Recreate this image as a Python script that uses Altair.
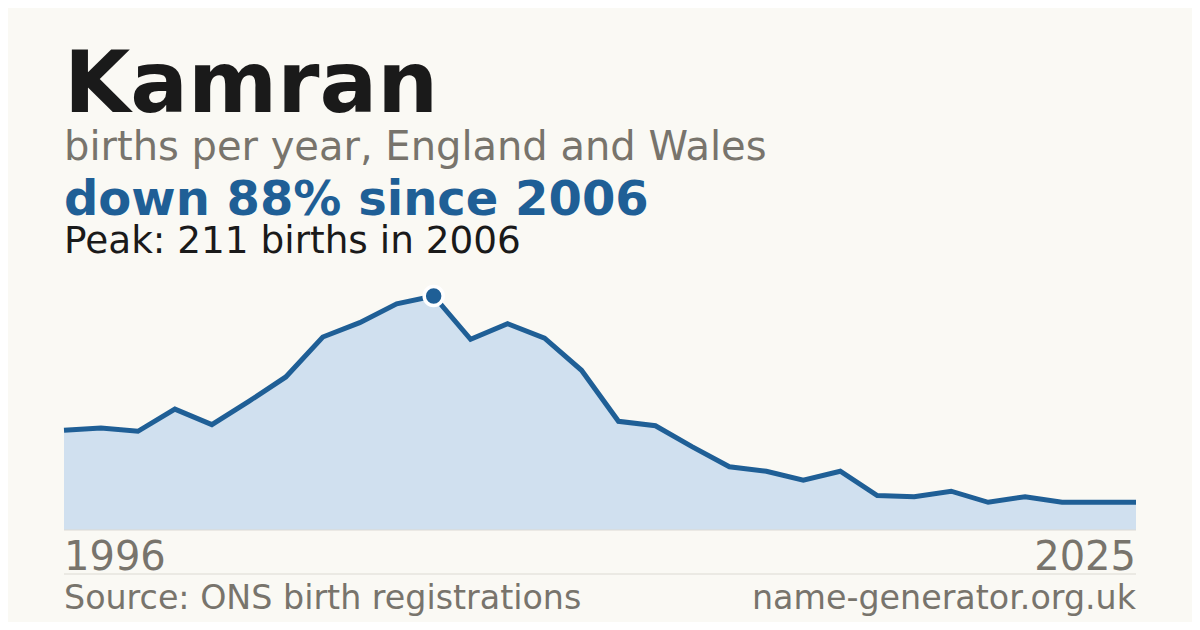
import altair as alt
import pandas as pd

# ---- data ----
years = list(range(1996, 2026))
births = [90, 92, 89, 109, 95, 116, 138, 174, 187, 204,
          211, 172, 186, 173, 144, 98, 94, 75, 57, 53,
          45, 53, 31, 30, 35, 25, 30, 25, 25, 25]

title_text = "Kamran"
subtitle_text = "births per year, England and Wales"
headline_text = "down 88% since 2006"
peak_text = "Peak: 211 births in 2006"
first_label = "1996"
last_label = "2025"
source_text = "Source: ONS birth registrations"
site_text = "name-generator.org.uk"

BG = "#faf9f4"
BLUE = "#1f5f96"
FILL = "#d0e0ef"
GREY = "#78746c"
DARK = "#1a1a1a"
RULE = "#dcdad3"
FONT = "DejaVu Sans"

W, H = 1072, 234

df = pd.DataFrame({"year": years, "births": births})
peak_i = births.index(max(births))
peak_df = pd.DataFrame({"year": [years[peak_i]], "births": [births[peak_i]]})

xs = alt.Scale(domain=[years[0], years[-1]], nice=False, zero=False)
ys = alt.Scale(domain=[0, max(births)], nice=False, zero=True)

X = alt.X("year:Q", scale=xs, axis=None)
Y = alt.Y("births:Q", scale=ys, axis=None)

base = alt.Chart(df)

area = base.mark_area(color=FILL, opacity=1).encode(x=X, y=Y)
line = base.mark_line(color=BLUE, strokeWidth=5, strokeJoin="miter").encode(x=X, y=Y)
peak = alt.Chart(peak_df).mark_point(
    filled=True, shape="circle", size=360, color=BLUE, stroke="white",
    strokeWidth=3.5, opacity=1
).encode(x=X, y=Y)

one = pd.DataFrame({"k": [0]})


def txt(text, x, y, size, color, weight="normal", align="left"):
    return alt.Chart(one).mark_text(
        text=text, fontSize=size, color=color, fontWeight=weight,
        align=align, baseline="alphabetic", font=FONT
    ).encode(x=alt.value(x), y=alt.value(y))


def hline(y):
    return alt.Chart(one).mark_rule(color=RULE, strokeWidth=1).encode(
        x=alt.value(0), x2=alt.value(W), y=alt.value(y)
    )


texts = [
    txt(title_text, 0, -184, 85.6, DARK, "bold"),
    txt(subtitle_text, 0, -136, 40, GREY),
    txt(headline_text, 0, -81, 48, BLUE, "bold"),
    txt(peak_text, 0, -43, 37.4, DARK),
    txt(first_label, 0, 274, 40, GREY),
    txt(last_label, W, 274, 40, GREY, align="right"),
    txt(source_text, 0, 313, 33.3, GREY),
    txt(site_text, W, 313, 33.3, GREY, align="right"),
]

chart = alt.layer(area, hline(H), line, peak, hline(278), *texts).properties(
    width=W, height=H,
    background=BG,
    padding={"left": 56, "top": 288, "right": 56, "bottom": 92},
    autosize=alt.AutoSizeParams(type="none"),
).configure(font=FONT).configure_view(stroke=None, strokeWidth=0)

chart.save("out.html", embed_options={"renderer": "svg", "actions": False})
